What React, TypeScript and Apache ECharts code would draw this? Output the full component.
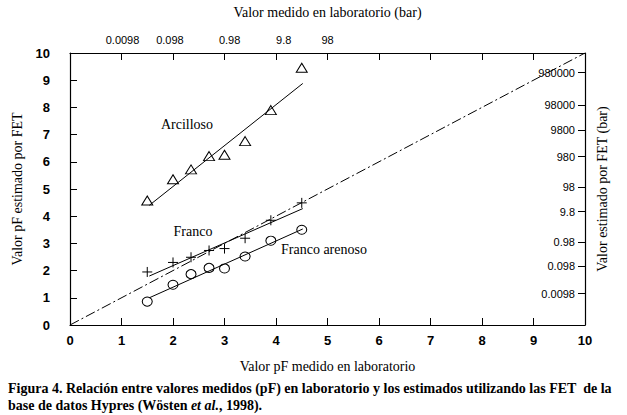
import React, { useEffect, useRef } from "react";
import * as echarts from "echarts";

const measuredPF = [1.5, 2.0, 2.35, 2.7, 3.0, 3.4, 3.9, 4.5];
const arcilloso = [4.58, 5.36, 5.72, 6.21, 6.26, 6.76, 7.9, 9.46];
const franco = [1.95, 2.3, 2.49, 2.74, 2.81, 3.19, 3.85, 4.49];
const francoArenoso = [0.86, 1.48, 1.87, 2.1, 2.08, 2.52, 3.1, 3.5];

const fitArcilloso = [[1.54, 4.4], [4.52, 8.88]];
const fitFranco = [[1.54, 1.8], [4.52, 4.28]];
const fitFrancoArenoso = [[1.54, 1.0], [4.52, 3.53]];
const oneToOne = [[0, 0], [10, 10]];

const topLabelPos = [1.02, 1.94, 3.1, 4.15, 5.0];
const topLabels = ["0.0098", "0.098", "0.98", "9.8", "98"];
const rightLabelPos = [1.15, 2.16, 3.06, 4.17, 5.07, 6.19, 7.16, 8.09, 9.28];
const rightLabels = ["0.0098", "0.098", "0.98", "9.8", "98", "980", "9800", "98000", "980000"];

const serif = "'Liberation Serif', 'Times New Roman', Times, serif";
const sans = "'Liberation Sans', Arial, Helvetica, sans-serif";

export default function App() {
  const ref = useRef<HTMLDivElement>(null);
  useEffect(() => {
    const chart = echarts.init(ref.current!, null, { renderer: "svg" });
    const pair = (ys: number[]) => measuredPF.map((x, i) => [x, ys[i]]);
    const axisCommon = {
      min: 0,
      max: 10,
      interval: 1,
      axisLine: { show: true, onZero: false, lineStyle: { color: "#000", width: 1.2 } },
      axisTick: { show: true, inside: true, length: 7, lineStyle: { color: "#000" } },
      splitLine: { show: false },
    };
    chart.setOption({
      animation: false,
      backgroundColor: "#fff",
      grid: { left: 70, right: 42, top: 46, bottom: 90 },
      xAxis: [
        {
          type: "value",
          ...axisCommon,
          position: "bottom",
          name: "Valor pF medido en laboratorio",
          nameLocation: "middle",
          nameGap: 34,
          nameTextStyle: { fontFamily: serif, fontSize: 14, color: "#000" },
          axisLabel: { fontFamily: sans, fontWeight: "bold", fontSize: 13, color: "#000", margin: 9 },
        },
        {
          type: "value",
          ...axisCommon,
          position: "top",
          name: "Valor medido en laboratorio (bar)",
          nameLocation: "middle",
          nameGap: 34,
          nameTextStyle: { fontFamily: serif, fontSize: 14, color: "#000" },
          axisLabel: {
            customValues: topLabelPos,
            fontFamily: sans,
            fontSize: 11,
            color: "#000",
            margin: 8,
            formatter: (v: number) => {
              const i = topLabelPos.findIndex((p) => Math.abs(p - v) < 1e-6);
              return i >= 0 ? topLabels[i] : "";
            },
          },
        },
      ],
      yAxis: [
        {
          type: "value",
          ...axisCommon,
          position: "left",
          name: "Valor pF estimado por FET",
          nameLocation: "middle",
          nameGap: 39,
          nameTextStyle: { fontFamily: serif, fontSize: 14, color: "#000" },
          axisLabel: { fontFamily: sans, fontWeight: "bold", fontSize: 13, color: "#000", margin: 20 },
        },
        {
          type: "value",
          ...axisCommon,
          position: "right",
          name: "Valor estimado por FET (bar)",
          nameLocation: "middle",
          nameGap: 10,
          nameRotate: 90,
          nameTextStyle: { fontFamily: serif, fontSize: 14, color: "#000", verticalAlign: "top" },
          axisTick: { show: true, inside: true, length: 7, customValues: rightLabelPos, lineStyle: { color: "#000" } },
          axisLabel: {
            customValues: rightLabelPos,
            inside: true,
            fontFamily: sans,
            fontSize: 11,
            color: "#000",
            margin: 10,
            formatter: (v: number) => {
              const i = rightLabelPos.findIndex((p) => Math.abs(p - v) < 1e-6);
              return i >= 0 ? rightLabels[i] : "";
            },
          },
        },
      ],
      series: [
        {
          type: "line",
          data: oneToOne,
          showSymbol: false,
          lineStyle: { color: "#000", width: 1, type: [10, 3, 2, 3] },
          silent: true,
        },
        { type: "line", data: fitArcilloso, showSymbol: false, lineStyle: { color: "#000", width: 1 } },
        { type: "line", data: fitFranco, showSymbol: false, lineStyle: { color: "#000", width: 1 } },
        { type: "line", data: fitFrancoArenoso, showSymbol: false, lineStyle: { color: "#000", width: 1 } },
        {
          type: "scatter",
          name: "Arcilloso",
          data: pair(arcilloso),
          symbol: "triangle",
          symbolSize: [11, 9],
          itemStyle: { color: "#fff", borderColor: "#000", borderWidth: 1, opacity: 1 },
        },
        {
          type: "scatter",
          name: "Franco",
          data: pair(franco),
          symbol: "path://M0,5L10,5M5,0L5,10",
          symbolSize: 10,
          itemStyle: { color: "none", borderColor: "#000", borderWidth: 1, opacity: 1 },
        },
        {
          type: "scatter",
          name: "Franco arenoso",
          data: pair(francoArenoso),
          symbol: "circle",
          symbolSize: [10, 9],
          itemStyle: { color: "#fff", borderColor: "#000", borderWidth: 1, opacity: 1 },
        },
      ],
      graphic: [
        { type: "text", x: 187, y: 124, style: { text: "Arcilloso", fontFamily: serif, fontSize: 14, fill: "#000", align: "center", verticalAlign: "middle" } },
        { type: "text", x: 193, y: 231, style: { text: "Franco", fontFamily: serif, fontSize: 14, fill: "#000", align: "center", verticalAlign: "middle" } },
        { type: "text", x: 281, y: 249, style: { text: "Franco arenoso", fontFamily: serif, fontSize: 14, fill: "#000", align: "left", verticalAlign: "middle" } },
        {
          type: "text",
          x: 8,
          y: 381,
          style: {
            text: "Figura 4. Relación entre valores medidos (pF) en laboratorio y los estimados utilizando las FET  de la",
            fontFamily: serif,
            fontWeight: "bold",
            fontSize: 14,
            fill: "#000",
          },
        },
        {
          type: "text",
          x: 8,
          y: 398,
          style: {
            text: "{b|base de datos Hypres (Wösten }{i|et al.}{b|, 1998).}",
            rich: {
              b: { fontFamily: serif, fontWeight: "bold", fontSize: 14, fill: "#000" },
              i: { fontFamily: serif, fontWeight: "bold", fontStyle: "italic", fontSize: 14, fill: "#000" },
            },
          },
        },
      ],
    });
    return () => chart.dispose();
  }, []);
  return <div ref={ref} style={{ position: "fixed", left: 0, top: 0, width: 627, height: 415 }} />;
}
